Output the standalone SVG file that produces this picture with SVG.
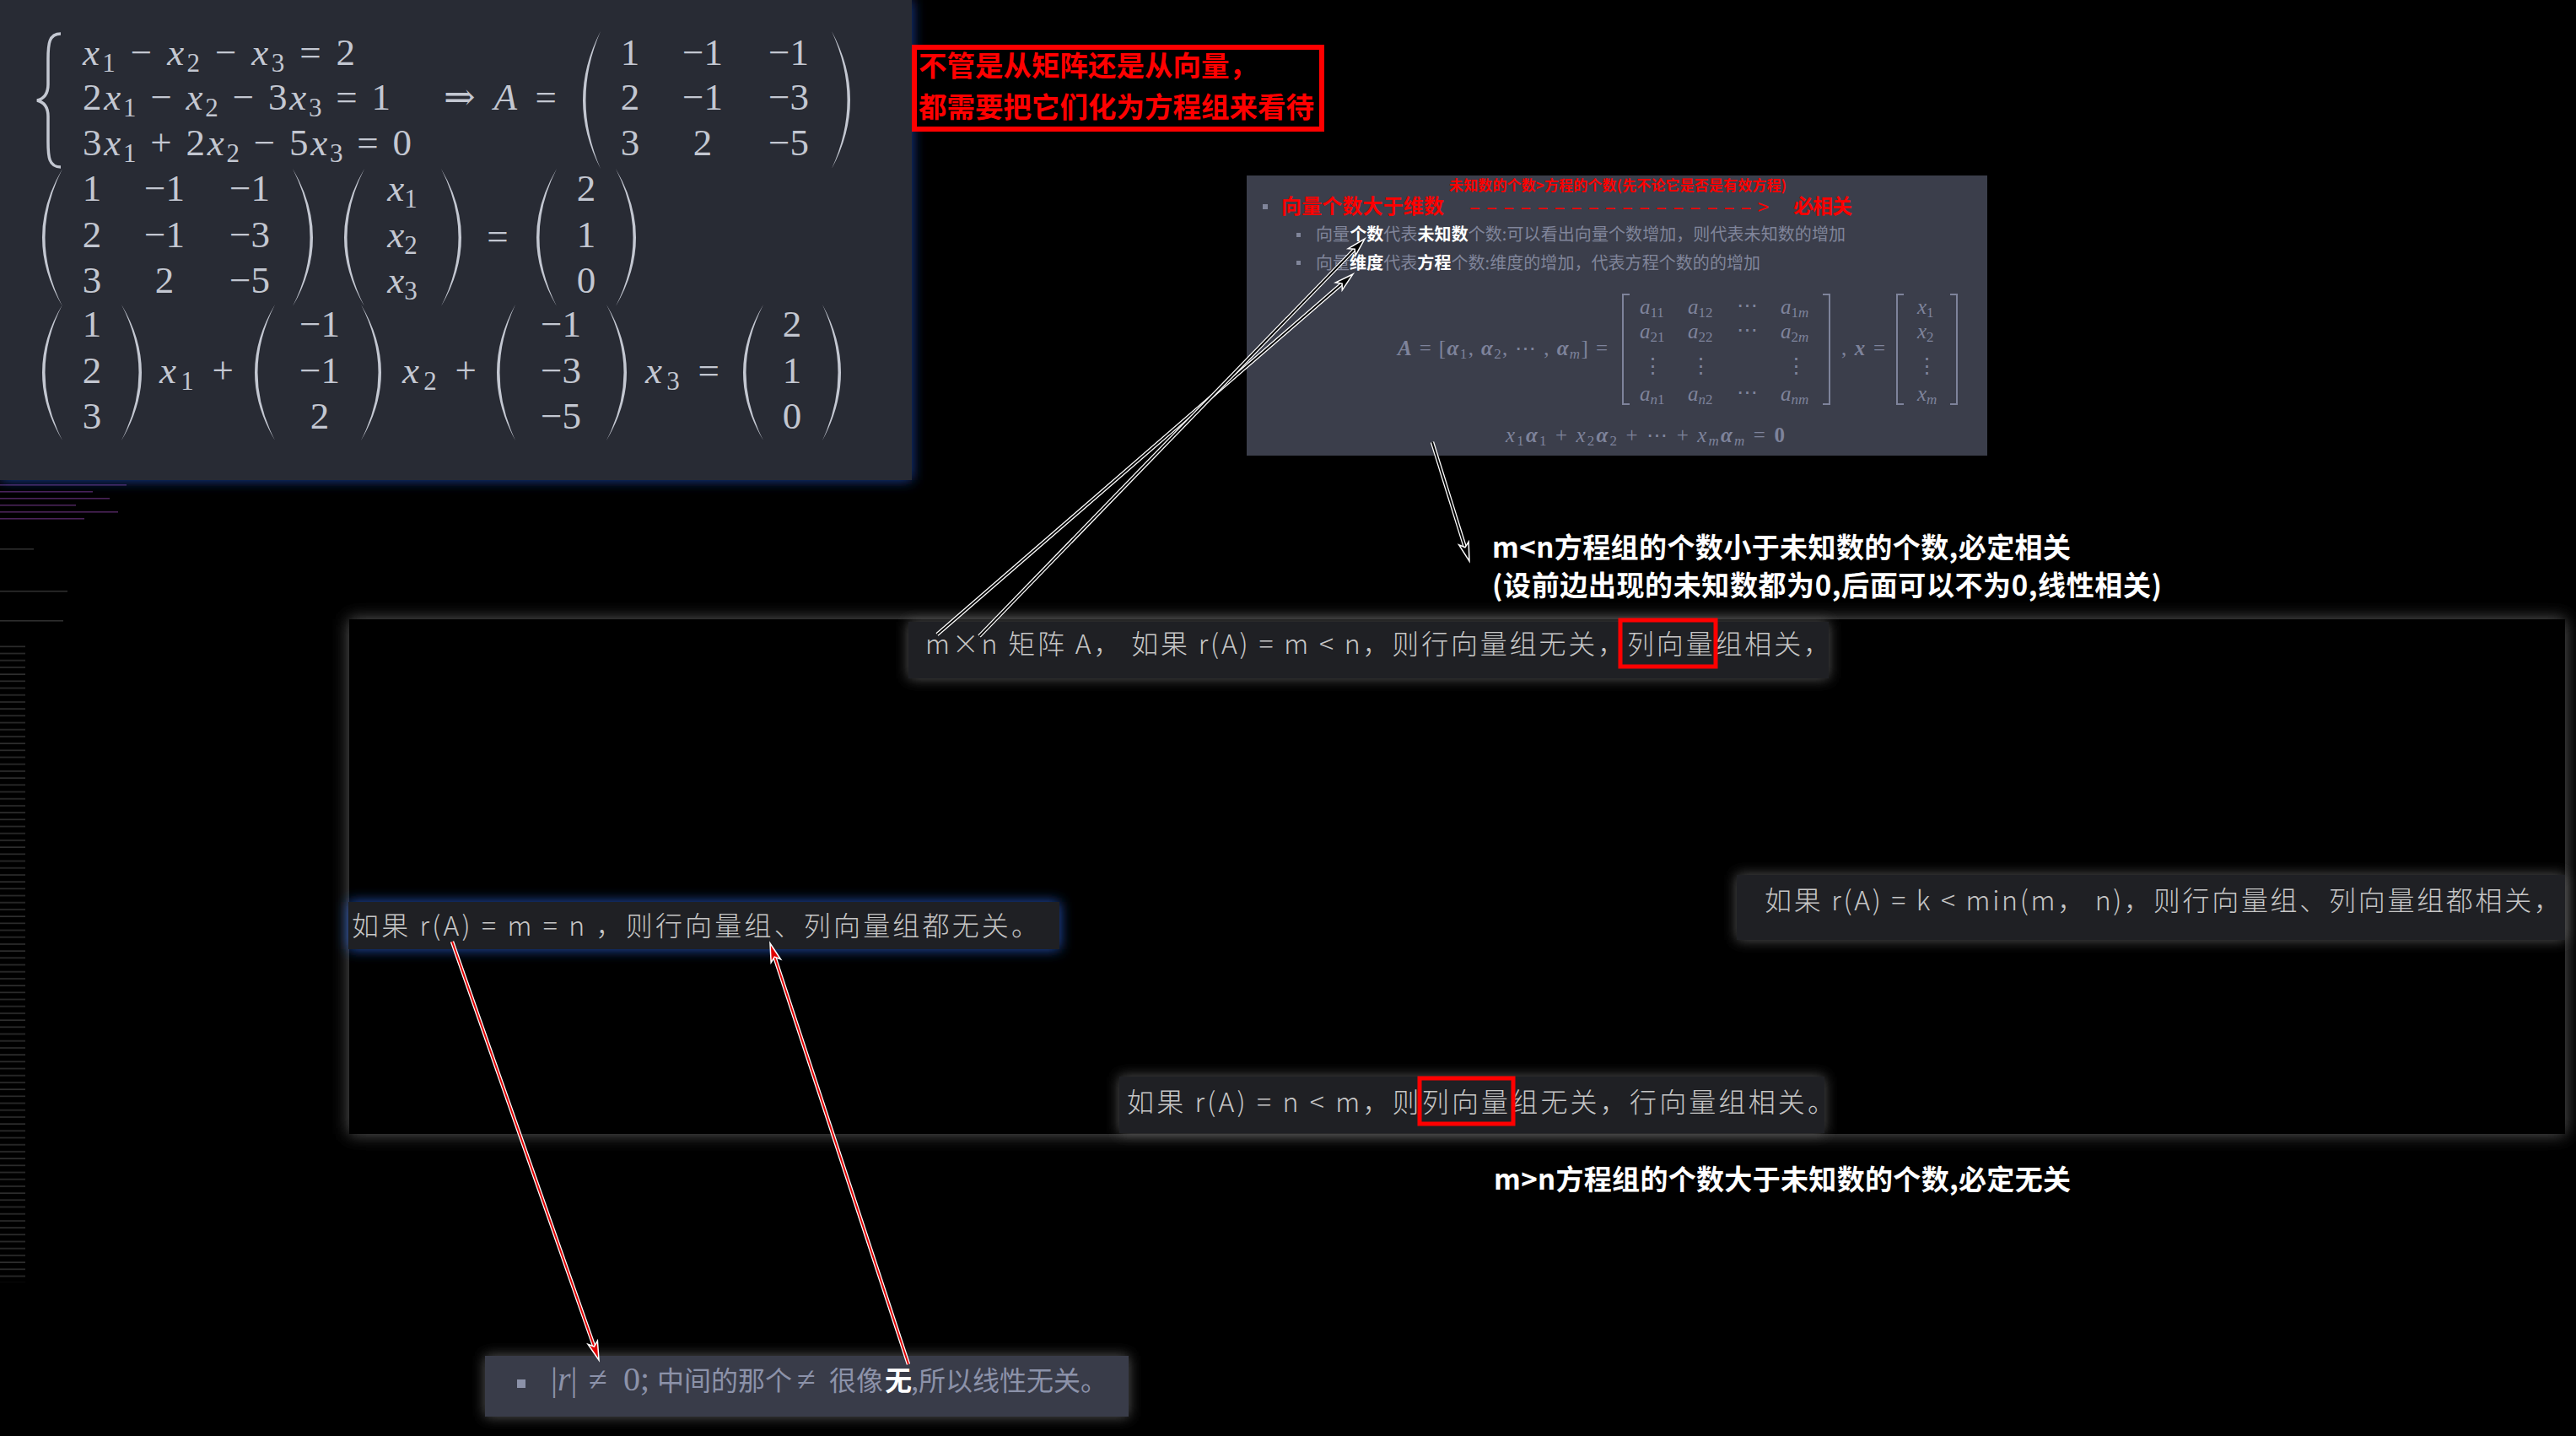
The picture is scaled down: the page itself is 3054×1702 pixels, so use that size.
<svg xmlns="http://www.w3.org/2000/svg" width="3054" height="1702" viewBox="0 0 3054 1702">
<defs>
<style>
.m{font-family:"Liberation Serif","DejaVu Serif",serif;font-size:45px;fill:#c3c7d1}
.i{font-style:italic}
.b{font-weight:700}
.s{font-size:31px}
.mc{text-anchor:middle}
.tm{font-family:"Liberation Serif","DejaVu Serif",serif;font-size:25px;fill:#7e839b}
.ts{font-size:17px}
.cj{font-family:"Noto Sans CJK SC","Noto Sans",sans-serif}
.bx{font-size:32px;fill:#c6c6c6;font-weight:300}
.note{font-size:33px;fill:#ffffff;font-weight:700}
.red{fill:#ff0000}
.g{fill:#80859a}
.w{fill:#ffffff;font-weight:700}
.par{fill:#c3c7d1}
.brk{fill:none;stroke:#7e839b;stroke-width:2}
.wo{fill:none;stroke:#ffffff;stroke-width:4.5}
.wi{fill:none;stroke:#000000;stroke-width:2}
.ri{fill:none;stroke:#e00000;stroke-width:2}
.boxbg{fill:#1f2024}
.glowg{fill:#5a5a5a}
</style>
<filter id="blur10" x="-20%" y="-60%" width="140%" height="220%"><feGaussianBlur stdDeviation="10"/></filter>
<filter id="blur8" x="-20%" y="-60%" width="140%" height="220%"><feGaussianBlur stdDeviation="8"/></filter>
<marker id="hw" markerUnits="userSpaceOnUse" markerWidth="26" markerHeight="16" refX="12" refY="7" orient="auto" overflow="visible"><path d="M0,1 L22,7 L0,13 L5,7Z" fill="#000000" stroke="#ffffff" stroke-width="1.5"/></marker>
<marker id="hr" markerUnits="userSpaceOnUse" markerWidth="26" markerHeight="16" refX="12" refY="7" orient="auto" overflow="visible"><path d="M0,1 L22,7 L0,13 L5,7Z" fill="#e00000" stroke="#ffffff" stroke-width="1.5"/></marker>
<pattern id="term" width="40" height="8.2" patternUnits="userSpaceOnUse"><rect x="0" y="3" width="30" height="1.6" fill="#2e2e2e"/></pattern>
</defs>

<rect x="0" y="0" width="3054" height="1702" fill="#000000"/>

<g id="terminal">
<rect x="0" y="760" width="34" height="760" fill="url(#term)"/>
<rect x="0" y="574" width="150" height="1.6" fill="#4a2358"/>
<rect x="0" y="582" width="110" height="1.6" fill="#4a2358"/>
<rect x="0" y="590" width="130" height="1.6" fill="#4a2358"/>
<rect x="0" y="598" width="90" height="1.6" fill="#4a2358"/>
<rect x="0" y="606" width="140" height="1.6" fill="#4a2358"/>
<rect x="0" y="614" width="100" height="1.6" fill="#4a2358"/>
<rect x="0" y="650" width="40" height="1.6" fill="#2e2e2e"/>
<rect x="0" y="700" width="80" height="1.6" fill="#2e2e2e"/>
<rect x="0" y="735" width="75" height="1.6" fill="#2e2e2e"/>
</g>

<g id="math-panel">
<rect x="0" y="0" width="1081" height="569" fill="#1d43a0" filter="url(#blur8)"/>
<rect x="0" y="0" width="1081" height="569" fill="#282b34"/>
<path d="M72,40 C58,40 57,52 57,70 L57,100 C57,112 52,117 44,119 C52,121 57,126 57,138 L57,168 C57,186 58,198 72,198" fill="none" stroke="#c3c7d1" stroke-width="3.5"/>
<text class="m" x="98" y="77" textLength="323" lengthAdjust="spacing"><tspan class="i">x</tspan><tspan class="s" dy="8">1</tspan><tspan dy="-8"> − </tspan><tspan class="i">x</tspan><tspan class="s" dy="8">2</tspan><tspan dy="-8"> − </tspan><tspan class="i">x</tspan><tspan class="s" dy="8">3</tspan><tspan dy="-8"> = 2</tspan></text>
<text class="m" x="98" y="130" textLength="365" lengthAdjust="spacing">2<tspan class="i">x</tspan><tspan class="s" dy="8">1</tspan><tspan dy="-8"> − </tspan><tspan class="i">x</tspan><tspan class="s" dy="8">2</tspan><tspan dy="-8"> − 3</tspan><tspan class="i">x</tspan><tspan class="s" dy="8">3</tspan><tspan dy="-8"> = 1</tspan></text>
<text class="m" x="98" y="184" textLength="390" lengthAdjust="spacing">3<tspan class="i">x</tspan><tspan class="s" dy="8">1</tspan><tspan dy="-8"> + 2</tspan><tspan class="i">x</tspan><tspan class="s" dy="8">2</tspan><tspan dy="-8"> − 5</tspan><tspan class="i">x</tspan><tspan class="s" dy="8">3</tspan><tspan dy="-8"> = 0</tspan></text>
<text class="m" x="526" y="130" textLength="134" lengthAdjust="spacing">⇒ <tspan class="i">A</tspan> =</text>
<path class="par" d="M712,37 Q670,118.5 712,200 Q677,118.5 712,37Z"/>
<path class="par" d="M986,37 Q1030,118.5 986,200 Q1023,118.5 986,37Z"/>
<text class="m mc" x="747" y="77">1</text><text class="m mc" x="833" y="77">−1</text><text class="m mc" x="935" y="77">−1</text>
<text class="m mc" x="747" y="130">2</text><text class="m mc" x="833" y="130">−1</text><text class="m mc" x="935" y="130">−3</text>
<text class="m mc" x="747" y="184">3</text><text class="m mc" x="833" y="184">2</text><text class="m mc" x="935" y="184">−5</text>

<path class="par" d="M74,200 Q26,281.5 74,363 Q33,281.5 74,200Z"/>
<path class="par" d="M347,200 Q395,281.5 347,363 Q388,281.5 347,200Z"/>
<text class="m mc" x="109" y="238">1</text><text class="m mc" x="195" y="238">−1</text><text class="m mc" x="296" y="238">−1</text>
<text class="m mc" x="109" y="293">2</text><text class="m mc" x="195" y="293">−1</text><text class="m mc" x="296" y="293">−3</text>
<text class="m mc" x="109" y="347">3</text><text class="m mc" x="195" y="347">2</text><text class="m mc" x="296" y="347">−5</text>
<path class="par" d="M432,200 Q384,281.5 432,363 Q391,281.5 432,200Z"/>
<path class="par" d="M523,200 Q571,281.5 523,363 Q564,281.5 523,200Z"/>
<text class="m mc" x="477" y="238"><tspan class="i">x</tspan><tspan class="s" dy="8">1</tspan></text>
<text class="m mc" x="477" y="293"><tspan class="i">x</tspan><tspan class="s" dy="8">2</tspan></text>
<text class="m mc" x="477" y="347"><tspan class="i">x</tspan><tspan class="s" dy="8">3</tspan></text>
<text class="m mc" x="590" y="295">=</text>
<path class="par" d="M660,200 Q612,281.5 660,363 Q619,281.5 660,200Z"/>
<path class="par" d="M730,200 Q778,281.5 730,363 Q771,281.5 730,200Z"/>
<text class="m mc" x="695" y="238">2</text><text class="m mc" x="695" y="293">1</text><text class="m mc" x="695" y="347">0</text>

<path class="par" d="M74,361 Q26,441.5 74,522 Q33,441.5 74,361Z"/>
<path class="par" d="M144,361 Q192,441.5 144,522 Q185,441.5 144,361Z"/>
<text class="m mc" x="109" y="399">1</text><text class="m mc" x="109" y="454">2</text><text class="m mc" x="109" y="508">3</text>
<text class="m" x="189" y="454" textLength="88" lengthAdjust="spacing"><tspan class="i">x</tspan><tspan class="s" dy="8">1</tspan><tspan dy="-8"> +</tspan></text>
<path class="par" d="M326,361 Q278,441.5 326,522 Q285,441.5 326,361Z"/>
<path class="par" d="M428,361 Q476,441.5 428,522 Q469,441.5 428,361Z"/>
<text class="m mc" x="379" y="399">−1</text><text class="m mc" x="379" y="454">−1</text><text class="m mc" x="379" y="508">2</text>
<text class="m" x="477" y="454" textLength="88" lengthAdjust="spacing"><tspan class="i">x</tspan><tspan class="s" dy="8">2</tspan><tspan dy="-8"> +</tspan></text>
<path class="par" d="M611,361 Q567,441.5 611,522 Q574,441.5 611,361Z"/>
<path class="par" d="M719,361 Q767,441.5 719,522 Q760,441.5 719,361Z"/>
<text class="m mc" x="665" y="399">−1</text><text class="m mc" x="665" y="454">−3</text><text class="m mc" x="665" y="508">−5</text>
<text class="m" x="765" y="454" textLength="88" lengthAdjust="spacing"><tspan class="i">x</tspan><tspan class="s" dy="8">3</tspan><tspan dy="-8"> =</tspan></text>
<path class="par" d="M905,361 Q857,441.5 905,522 Q864,441.5 905,361Z"/>
<path class="par" d="M975,361 Q1019,441.5 975,522 Q1012,441.5 975,361Z"/>
<text class="m mc" x="939" y="399">2</text><text class="m mc" x="939" y="454">1</text><text class="m mc" x="939" y="508">0</text>
</g>

<g id="note-red">
<rect x="1084" y="56" width="483" height="97" fill="#000000" stroke="#ff0000" stroke-width="6"/>
<text class="cj red" x="1089" y="90" font-size="33.5" font-weight="700">不管是从矩阵还是从向量，</text>
<text class="cj red" x="1089" y="139" font-size="33.5" font-weight="700">都需要把它们化为方程组来看待</text>
</g>

<g id="vector-panel">
<rect x="1478" y="208" width="878" height="332" fill="#3b3e4b"/>
<rect x="1497" y="242" width="6" height="6" fill="#80859a"/>
<text class="cj red" x="1519" y="253" font-size="24" font-weight="700" textLength="193" lengthAdjust="spacing">向量个数大于维数</text>
<text class="cj red" x="1718" y="226" font-size="17" font-weight="700" textLength="400" lengthAdjust="spacing">未知数的个数&gt;方程的个数(先不论它是否是有效方程)</text>
<text class="cj red" x="1742" y="254" font-size="24" textLength="355" lengthAdjust="spacing">–––––––––––––––––&gt;</text>
<text class="cj red" x="2126" y="253" font-size="24" font-weight="700" textLength="70" lengthAdjust="spacing">必相关</text>
<rect x="1537" y="276" width="5" height="5" fill="#80859a"/>
<text class="cj g" x="1560" y="285" font-size="20" textLength="628" lengthAdjust="spacing">向量<tspan class="w">个数</tspan>代表<tspan class="w">未知数</tspan>个数:可以看出向量个数增加，则代表未知数的增加</text>
<rect x="1537" y="309" width="5" height="5" fill="#80859a"/>
<text class="cj g" x="1560" y="319" font-size="20" textLength="527" lengthAdjust="spacing">向量<tspan class="w">维度</tspan>代表<tspan class="w">方程</tspan>个数:维度的增加，代表方程个数的的增加</text>
<text class="tm" x="1657" y="421" textLength="249" lengthAdjust="spacing"><tspan class="i b">A</tspan> = [<tspan class="i b">α</tspan><tspan class="ts" dy="4">1</tspan><tspan dy="-4">, </tspan><tspan class="i b">α</tspan><tspan class="ts" dy="4">2</tspan><tspan dy="-4">, ⋯ , </tspan><tspan class="i b">α</tspan><tspan class="ts i" dy="4">m</tspan><tspan dy="-4">] =</tspan></text>
<path class="brk" d="M1932,349 H1924 V479 H1932"/>
<path class="brk" d="M2161,349 H2169 V479 H2161"/>
<text class="tm" x="1944" y="372"><tspan class="i">a</tspan><tspan class="ts" dy="4">11</tspan></text>
<text class="tm" x="2001" y="372"><tspan class="i">a</tspan><tspan class="ts" dy="4">12</tspan></text>
<text class="tm" x="2059" y="370">⋯</text>
<text class="tm" x="2111" y="372"><tspan class="i">a</tspan><tspan class="ts" dy="4">1<tspan class="i">m</tspan></tspan></text>
<text class="tm" x="1944" y="401"><tspan class="i">a</tspan><tspan class="ts" dy="4">21</tspan></text>
<text class="tm" x="2001" y="401"><tspan class="i">a</tspan><tspan class="ts" dy="4">22</tspan></text>
<text class="tm" x="2059" y="399">⋯</text>
<text class="tm" x="2111" y="401"><tspan class="i">a</tspan><tspan class="ts" dy="4">2<tspan class="i">m</tspan></tspan></text>
<text class="tm mc" x="1959" y="442">⋮</text>
<text class="tm mc" x="2016" y="442">⋮</text>
<text class="tm mc" x="2129" y="442">⋮</text>
<text class="tm" x="1944" y="475"><tspan class="i">a</tspan><tspan class="ts i" dy="4">n</tspan><tspan class="ts">1</tspan></text>
<text class="tm" x="2001" y="475"><tspan class="i">a</tspan><tspan class="ts i" dy="4">n</tspan><tspan class="ts">2</tspan></text>
<text class="tm" x="2059" y="473">⋯</text>
<text class="tm" x="2111" y="475"><tspan class="i">a</tspan><tspan class="ts i" dy="4">nm</tspan></text>
<text class="tm" x="2183" y="421" textLength="52" lengthAdjust="spacing">, <tspan class="i b">x</tspan> =</text>
<path class="brk" d="M2257,349 H2249 V479 H2257"/>
<path class="brk" d="M2312,349 H2320 V479 H2312"/>
<text class="tm" x="2273" y="372"><tspan class="i">x</tspan><tspan class="ts" dy="4">1</tspan></text>
<text class="tm" x="2273" y="401"><tspan class="i">x</tspan><tspan class="ts" dy="4">2</tspan></text>
<text class="tm mc" x="2284" y="442">⋮</text>
<text class="tm" x="2273" y="475"><tspan class="i">x</tspan><tspan class="ts i" dy="4">m</tspan></text>
<text class="tm" x="1785" y="524" font-size="27" textLength="331" lengthAdjust="spacing"><tspan class="i">x</tspan><tspan class="ts" dy="4">1</tspan><tspan class="i b" dy="-4">α</tspan><tspan class="ts" dy="4">1</tspan><tspan dy="-4"> + </tspan><tspan class="i">x</tspan><tspan class="ts" dy="4">2</tspan><tspan class="i b" dy="-4">α</tspan><tspan class="ts" dy="4">2</tspan><tspan dy="-4"> + ⋯ + </tspan><tspan class="i">x</tspan><tspan class="ts i" dy="4">m</tspan><tspan class="i b" dy="-4">α</tspan><tspan class="ts i" dy="4">m</tspan><tspan dy="-4"> = </tspan><tspan class="b">0</tspan></text>
</g>

<g id="note-mn-less">
<text class="cj note" x="1769" y="661" textLength="686" lengthAdjust="spacing">m&lt;n方程组的个数小于未知数的个数,必定相关</text>
<text class="cj note" x="1769" y="706" textLength="794" lengthAdjust="spacing">(设前边出现的未知数都为0,后面可以不为0,线性相关)</text>
</g>

<g id="frame">
<rect x="414" y="734" width="2627" height="610" fill="#5e5e5e" filter="url(#blur10)"/>
<rect x="414" y="734" width="2627" height="610" fill="#000000"/>
</g>

<g id="box-mlessn">
<rect x="1077" y="737" width="1091" height="67" class="glowg" filter="url(#blur8)"/>
<rect x="1077" y="737" width="1091" height="67" class="boxbg"/>
<text class="cj bx" x="1097" y="775" textLength="1073" lengthAdjust="spacing">m×n 矩阵 A， 如果 r(A) = m &lt; n，则行向量组无关，列向量组相关，</text>
<rect x="1921" y="735" width="113" height="55" fill="none" stroke="#ff0000" stroke-width="5"/>
</g>

<g id="box-mequaln">
<rect x="413" y="1069" width="843" height="56" fill="#2457c0" filter="url(#blur8)"/>
<rect x="413" y="1069" width="843" height="56" class="boxbg"/>
<text class="cj bx" x="417" y="1109" textLength="814" lengthAdjust="spacing">如果 r(A) = m = n ，则行向量组、列向量组都无关。</text>
</g>

<g id="box-kless">
<rect x="2059" y="1037" width="982" height="77" class="glowg" filter="url(#blur8)"/>
<rect x="2059" y="1037" width="982" height="77" class="boxbg"/>
<text class="cj bx" x="2092" y="1079" textLength="944" lengthAdjust="spacing">如果 r(A) = k &lt; min(m， n)，则行向量组、列向量组都相关，</text>
</g>

<g id="box-nlessm">
<rect x="1327" y="1276" width="836" height="67" class="glowg" filter="url(#blur8)"/>
<rect x="1327" y="1276" width="836" height="67" class="boxbg"/>
<text class="cj bx" x="1336" y="1318" textLength="839" lengthAdjust="spacing">如果 r(A) = n &lt; m，则列向量组无关，行向量组相关。</text>
<rect x="1683" y="1278" width="111" height="54" fill="none" stroke="#ff0000" stroke-width="5"/>
</g>

<g id="note-mn-greater">
<text class="cj note" x="1771" y="1410" textLength="684" lengthAdjust="spacing">m&gt;n方程组的个数大于未知数的个数,必定无关</text>
</g>

<g id="box-det">
<rect x="575" y="1607" width="763" height="72" class="glowg" filter="url(#blur8)"/>
<rect x="575" y="1607" width="763" height="72" fill="#393c49"/>
<rect x="613" y="1635" width="10" height="10" fill="#8c92a9"/>
<text y="1648" font-size="32" fill="#8c92a9"><tspan x="653" font-family="Liberation Serif, serif" font-size="40">|<tspan font-style="italic">r</tspan>|</tspan><tspan x="698" font-family="Liberation Serif, DejaVu Serif, serif" font-size="40">≠</tspan><tspan x="739" font-family="Liberation Serif, serif" font-size="40">0;</tspan><tspan x="779" class="cj">中间的那个</tspan><tspan x="945" font-family="Liberation Serif, DejaVu Serif, serif" font-size="40">≠</tspan><tspan x="983" class="cj">很像</tspan><tspan x="1049" class="cj w">无</tspan><tspan x="1080" class="cj">,所以线性无关。</tspan></text>
</g>

<g id="connectors">
<path class="wo" d="M1111,752 L1596.4,331.5"/>
<path class="wi" d="M1111,752 L1596.4,331.5" marker-end="url(#hw)"/>
<path class="wo" d="M1161,754 L1611,290.2"/>
<path class="wi" d="M1161,754 L1611,290.2" marker-end="url(#hw)"/>
<path class="wo" d="M1698,524 L1739,655.5"/>
<path class="wi" d="M1698,524 L1739,655.5" marker-end="url(#hw)"/>
<path class="wo" d="M536,1116 L706.7,1602.6"/>
<path class="ri" d="M536,1116 L706.7,1602.6" marker-end="url(#hr)"/>
<path class="wo" d="M1077,1617 L916.1,1127.5"/>
<path class="ri" d="M1077,1617 L916.1,1127.5" marker-end="url(#hr)"/>
</g>
</svg>
